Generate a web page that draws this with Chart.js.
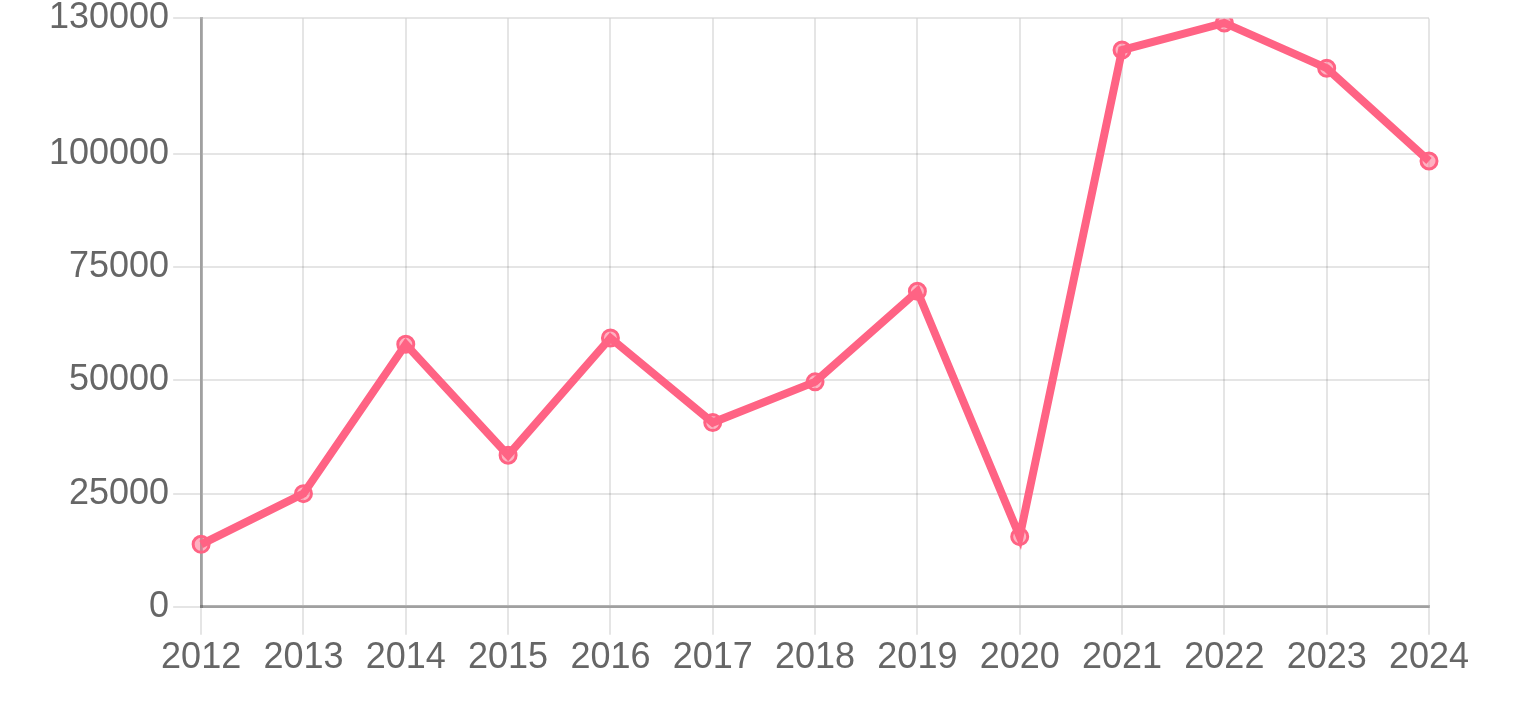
<!DOCTYPE html>
<html lang="en">
<head>
  <meta charset="UTF-8">
  <title>Yearly values</title>
  <script src="https://cdn.jsdelivr.net/npm/chart.js"></script>
  <style>
    body {
      margin: 0;
      background-color: white;
    }
    #chartBox {
      width: 1527px;
      height: 727px;
    }
  </style>
</head>
<body>
  <div id="chartBox"><canvas id="yearChart"></canvas></div>
  <script>
    const years = ['2012', '2013', '2014', '2015', '2016', '2017', '2018', '2019', '2020', '2021', '2022', '2023', '2024'];
    const values = [13800, 25000, 58000, 33500, 59400, 40700, 49700, 69700, 15500, 123000, 129000, 119000, 98500];
    const yTicks = [0, 25000, 50000, 75000, 100000, 130000];

    const red = 'rgb(255, 99, 132)';

    const ctx = document.getElementById('yearChart').getContext('2d');
    const yearChart = new Chart(ctx, {
      type: 'line',
      data: {
        labels: years,
        datasets: [{
          data: values,
          borderColor: red,
          backgroundColor: 'rgba(255, 99, 132, 0.5)',
          borderWidth: 8,
          pointRadius: 8,
          pointBorderWidth: 3,
          pointBorderColor: red,
          pointBackgroundColor: 'rgba(255, 99, 132, 0.5)',
          tension: 0,
          fill: false
        }]
      },
      options: {
        responsive: true,
        maintainAspectRatio: false,
        animation: false,
        layout: {
          padding: { left: 45, right: 98, top: 0, bottom: 45 }
        },
        plugins: {
          legend: { display: false },
          tooltip: { enabled: false }
        },
        scales: {
          x: {
            offset: false,
            grid: { color: 'rgba(0, 0, 0, 0.1)', lineWidth: 2, tickLength: 28 },
            border: { color: 'rgba(0, 0, 0, 0.3)', width: 3 },
            ticks: { color: '#666', font: { size: 36 }, padding: 2, maxRotation: 0, autoSkip: false }
          },
          y: {
            min: 0,
            max: 130000,
            afterBuildTicks: axis => {
              axis.ticks = yTicks.map(v => ({ value: v }));
            },
            grid: { color: 'rgba(0, 0, 0, 0.1)', lineWidth: 2, tickLength: 28 },
            border: { color: 'rgba(0, 0, 0, 0.3)', width: 3 },
            ticks: { color: '#666', font: { size: 36, lineHeight: 0.8 }, padding: 4, callback: v => String(v) }
          }
        }
      }
    });
  </script>
</body>
</html>
